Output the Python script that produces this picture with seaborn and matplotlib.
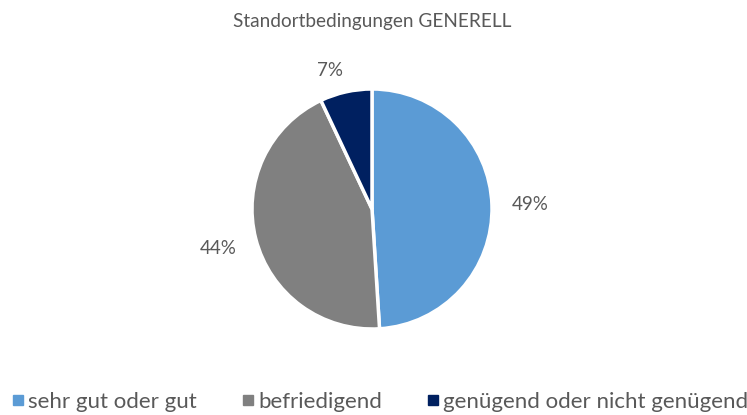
import matplotlib
matplotlib.use("Agg")
import matplotlib.pyplot as plt
import seaborn as sns
import numpy as np
from matplotlib.lines import Line2D

sns.set_theme(style="white")
plt.rcParams['font.family'] = ['Lato', 'DejaVu Sans']

title = "Standortbedingungen GENERELL"
categories = ["sehr gut oder gut", "befriedigend", "genügend oder nicht genügend"]
values = [49, 44, 7]
colors = ["#5B9BD5", "#808080", "#002060"]
text_color = "#595959"

fig = plt.figure(figsize=(7.47, 4.15), dpi=100)
ax = fig.add_axes([(372 - 120) / 747, (415 - 329) / 415, 240 / 747, 240 / 415])
wedges, texts, autotexts = ax.pie(
    values, colors=colors, startangle=90, counterclock=False,
    autopct=lambda p: f"{p:.0f}%", pctdistance=1.32,
    wedgeprops=dict(edgecolor="white", linewidth=2.5),
    textprops=dict(color=text_color, fontsize=13.5),
)
# small slice label sits closer to the pie
x, y = autotexts[2].get_position()
autotexts[2].set_position((x * 1.22 / 1.32 - 0.08, y * 1.18 / 1.32))
ax.set_aspect("equal")
ax.set_xlim(-1, 1)
ax.set_ylim(-1, 1)

fig.text(0.498, 1 - 22 / 415, title, ha="center", va="center", color=text_color, fontsize=13.7)

handles = [Line2D([0], [0], marker="s", linestyle="none", markersize=6.5,
                  markerfacecolor=c, markeredgecolor=c) for c in colors]
fig.legend(handles, categories, loc="center", bbox_to_anchor=(0.5095, 1 - 402 / 415),
           ncol=3, frameon=False, fontsize=16, labelcolor=text_color,
           handletextpad=0.2, columnspacing=2.05, handlelength=0.5)

fig.savefig("out.png", dpi=100)
